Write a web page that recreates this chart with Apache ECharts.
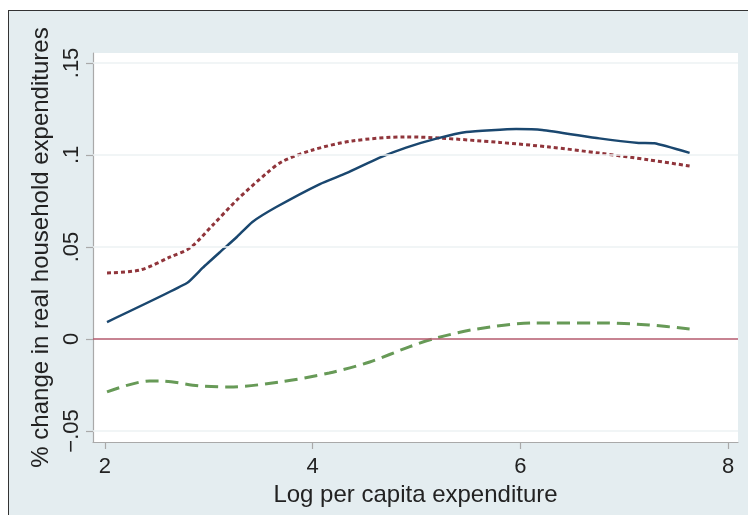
<!DOCTYPE html>
<html>
<head>
<meta charset="utf-8">
<script src="https://cdn.jsdelivr.net/npm/echarts@6/dist/echarts.min.js"></script>
<style>
html,body{margin:0;padding:0;background:#fff;}
#wrap{position:relative;width:748px;height:515px;overflow:hidden;}
#frame{position:absolute;left:8px;top:10px;width:760px;height:520px;background:#e4edf0;border-left:1.5px solid #333;border-top:1.5px solid #333;}
#chart{position:absolute;left:0;top:0;width:748px;height:515px;}
</style>
</head>
<body>
<div id="wrap"><div id="frame"></div><div id="chart"></div></div>
<script>
// Data
const navyX = [2.02, 2.79, 2.94, 3.11, 3.27, 3.42, 3.65, 4.07, 4.33, 4.64, 4.90, 5.20, 5.48, 5.96, 6.21, 6.76, 7.14, 7.29, 7.63];
const navyY = [0.0092, 0.0304, 0.0386, 0.0473, 0.0554, 0.0636, 0.0717, 0.0842, 0.0902, 0.0984, 0.1040, 0.1090, 0.1125, 0.1141, 0.1136, 0.1090, 0.1065, 0.1063, 0.1011];

const maroonX = [2.02, 2.34, 2.63, 2.82, 3.04, 3.27, 3.56, 3.71, 4.00, 4.38, 4.90, 5.22, 5.80, 6.28, 6.76, 7.24, 7.63];
const maroonY = [0.0359, 0.0375, 0.0446, 0.0495, 0.0620, 0.0755, 0.0902, 0.0965, 0.1027, 0.1076, 0.1098, 0.1092, 0.1068, 0.1043, 0.1010, 0.0973, 0.0940];

const greenX = [2.02, 2.43, 2.53, 2.91, 3.20, 3.68, 4.16, 4.55, 4.93, 5.19, 5.58, 6.12, 6.76, 7.24, 7.63];
const greenY = [-0.0288, -0.0228, -0.0228, -0.0255, -0.0261, -0.0234, -0.0185, -0.0125, -0.0043, 0.0005, 0.0054, 0.0087, 0.0087, 0.0076, 0.0054];

const xTickValues = [2, 4, 6, 8];
const xTickLabels = ['2', '4', '6', '8'];
const yTickValues = [-0.05, 0, 0.05, 0.1, 0.15];
const yTickLabels = ['\u2212.05', '0', '.05', '.1', '.15'];

const xTitle = 'Log per capita expenditure';
const yTitle = '% change in real household expenditures';

function pairs(xs, ys) { return xs.map((x, i) => [x, ys[i]]); }

const font = 'Liberation Sans, Arial, sans-serif';
const chart = echarts.init(document.getElementById('chart'));

const gridLines = yTickValues.filter(v => v !== 0).map(v => ({ yAxis: v, lineStyle: { color: '#edf2f3', width: 1.5, type: 'solid' } }));
gridLines.push({ yAxis: 0, lineStyle: { color: '#b45a6e', width: 1.5, type: 'solid' } });

chart.setOption({
  backgroundColor: 'transparent',
  animation: false,
  grid: { left: 93, right: 10, top: 53, bottom: 73, show: true, backgroundColor: '#ffffff', borderWidth: 0 },
  xAxis: {
    type: 'value', min: 1.885, max: 8.096,
    name: xTitle, nameLocation: 'middle', nameGap: 38,
    nameTextStyle: { fontFamily: font, fontSize: 24, color: '#222' },
    axisLine: { show: true, onZero: false, lineStyle: { color: '#a9a9a9', width: 1.2 } },
    axisTick: { show: true, customValues: xTickValues, length: 7, lineStyle: { color: '#a9a9a9', width: 1.2 } },
    axisLabel: { customValues: xTickValues, margin: 14, fontFamily: font, fontSize: 22, color: '#222',
      formatter: v => xTickLabels[xTickValues.indexOf(v)] ?? '' },
    splitLine: { show: false }
  },
  yAxis: {
    type: 'value', min: -0.056, max: 0.1554,
    name: yTitle, nameLocation: 'middle', nameGap: 40, nameRotate: 90,
    nameTextStyle: { fontFamily: font, fontSize: 24, color: '#222' },
    axisLine: { show: true, onZero: false, lineStyle: { color: '#a9a9a9', width: 1.2 } },
    axisTick: { show: true, customValues: yTickValues, length: 7, lineStyle: { color: '#a9a9a9', width: 1.2 } },
    axisLabel: { customValues: yTickValues, rotate: 90, margin: 10, fontFamily: font, fontSize: 22, color: '#222',
      formatter: v => { const i = yTickValues.findIndex(t => Math.abs(t - v) < 1e-9); return i >= 0 ? yTickLabels[i] : ''; } },
    splitLine: { show: false }
  },
  series: [
    { type: 'line', data: [], z: 1, silent: true,
      markLine: { silent: true, symbol: ['none', 'none'], label: { show: false }, data: gridLines } },
    { type: 'line', data: pairs(greenX, greenY), z: 2, showSymbol: false, smooth: 0.3,
      lineStyle: { color: '#679a57', width: 3, type: [13, 7] } },
    { type: 'line', data: pairs(maroonX, maroonY), z: 3, showSymbol: false, smooth: 0.3,
      lineStyle: { color: '#90353b', width: 3, type: [4, 3] } },
    { type: 'line', data: pairs(navyX, navyY), z: 4, showSymbol: false, smooth: 0.15,
      lineStyle: { color: '#1a476f', width: 2.5, type: 'solid' } }
  ]
});
</script>
</body>
</html>
